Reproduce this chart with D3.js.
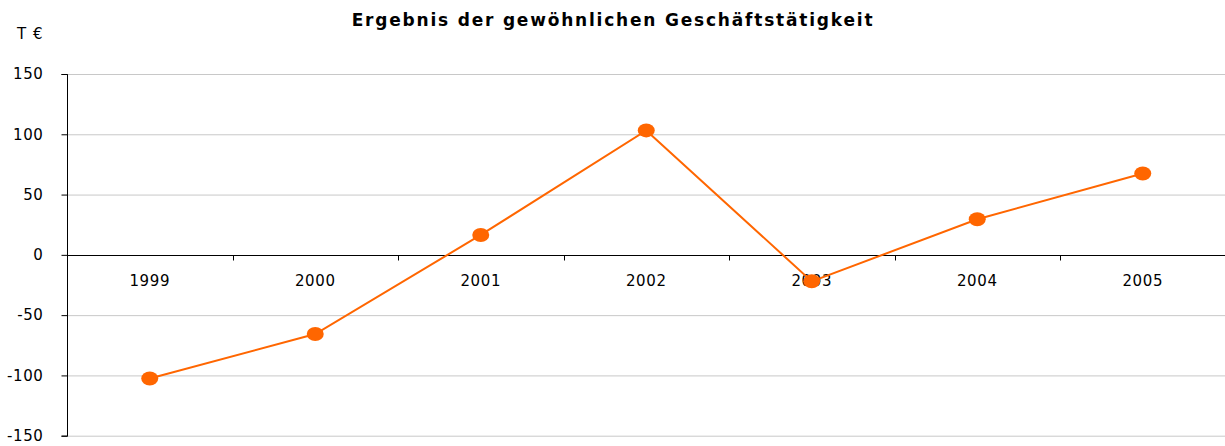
<!DOCTYPE html>
<html><head><meta charset="utf-8">
<script src="https://cdn.jsdelivr.net/npm/d3@7"></script>
<style>body{margin:0;background:#fff}svg{display:block}</style>
</head><body>
<svg id="c" width="1225" height="446"></svg>
<script>
const years = ["1999","2000","2001","2002","2003","2004","2005"];
const values = [-102.5, -65.7, 16.5, 103.2, -22, 29.5, 67.5];
const yTicks = [-150,-100,-50,0,50,100,150];
const title = "Ergebnis der gewöhnlichen Geschäftstätigkeit";
const unit = "T €";

const svg = d3.select("#c");
const L = 67, R = 1225.5, T = 74, B = 435.7;
const x = d3.scaleBand().domain(years).range([L, R]).padding(0);
const y = d3.scaleLinear().domain([-150,150]).range([B, T]);
const font = "DejaVu Sans, Verdana, sans-serif";

svg.append("text").attr("x", 613).attr("y", 26).attr("text-anchor","middle")
  .attr("font-family", font).attr("font-weight","bold").attr("font-size",17)
  .attr("letter-spacing","1.8px").attr("fill","#000").text(title);
svg.append("text").attr("x", 17).attr("y", 39)
  .attr("font-family", font).attr("font-size",15).attr("letter-spacing","1px")
  .attr("fill","#000").text(unit);

// gridlines
svg.append("g").selectAll("line").data(yTicks.filter(d=>d!==0)).join("line")
  .attr("x1", L).attr("x2", R).attr("y1", d=>y(d)+0.5).attr("y2", d=>y(d)+0.5)
  .attr("stroke","#c8c8c8").attr("stroke-width",1);

// y axis
const ya = svg.append("g").attr("transform",`translate(${L+0.5},0)`)
  .call(d3.axisLeft(y).tickValues(yTicks).tickSize(6).tickPadding(18).tickFormat(d=>String(d)));
ya.select(".domain").attr("stroke","#000").attr("d",`M-6,${y(150)+0.5}H0V${y(-150)+0.5}H-6`);
ya.selectAll(".tick line").attr("stroke","#000");
ya.selectAll(".tick text").attr("font-family",font).attr("font-size",15).attr("letter-spacing","0.6px").attr("fill","#000");

// x axis at zero
const xa = svg.append("g").attr("transform",`translate(0,${Math.round(y(0))+0.5})`);
xa.append("line").attr("x1",L).attr("x2",R).attr("stroke","#000");
const bounds = years.map(d=>x(d));
xa.selectAll("line.tk").data(bounds).join("line").attr("class","tk")
  .attr("x1",d=>Math.round(d)+0.5).attr("x2",d=>Math.round(d)+0.5).attr("y1",0).attr("y2",5).attr("stroke","#000");
xa.selectAll("text").data(years).join("text")
  .attr("x",d=>x(d)+x.bandwidth()/2).attr("y",30).attr("text-anchor","middle")
  .attr("font-family",font).attr("font-size",15).attr("letter-spacing","0.6px").attr("fill","#000").text(d=>d);

// line
const pts = years.map((d,i)=>[x(d)+x.bandwidth()/2, y(values[i])]);
svg.append("path").attr("d", d3.line()(pts)).attr("fill","none").attr("stroke","#ff6600").attr("stroke-width",2);
svg.append("g").selectAll("ellipse").data(pts).join("ellipse")
  .attr("cx",d=>d[0]).attr("cy",d=>d[1]).attr("rx",8.5).attr("ry",7).attr("fill","#ff6600");
</script>
</body></html>
